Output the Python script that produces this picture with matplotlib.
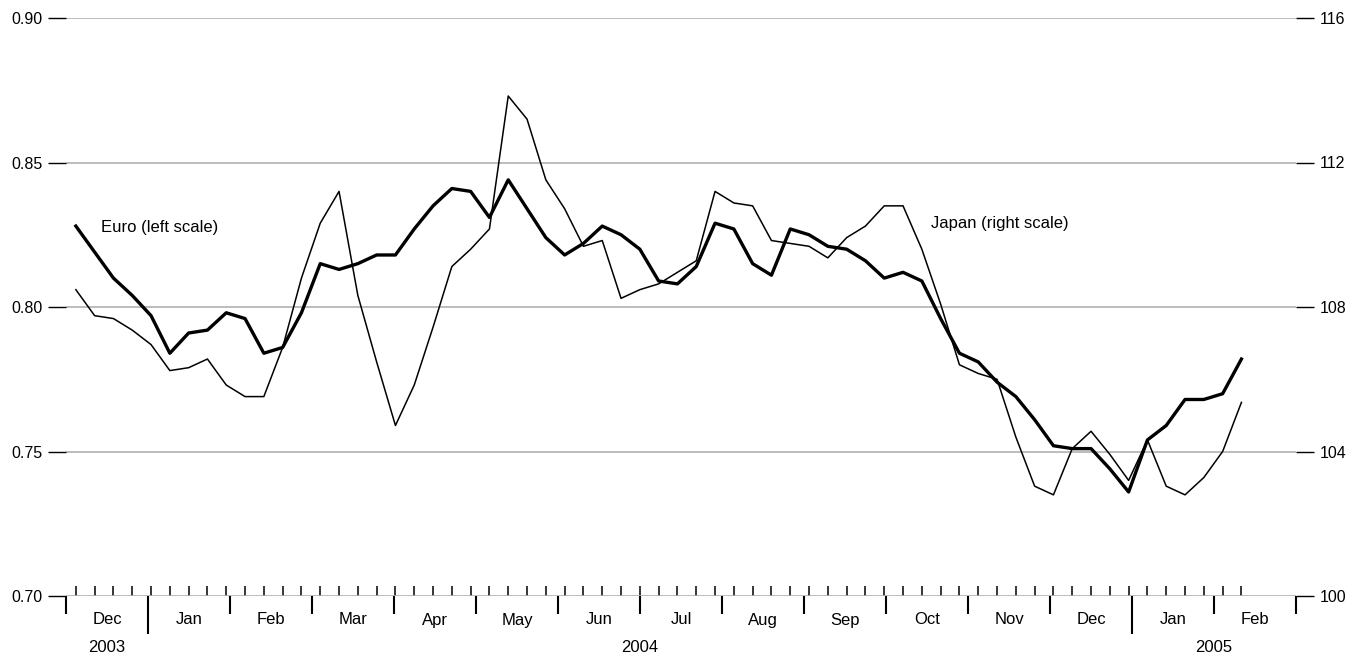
import numpy as np
import matplotlib.pyplot as plt
import matplotlib.transforms as mtransforms

plt.rcParams['font.family'] = ['Liberation Sans', 'DejaVu Sans']

# weekly values, Dec 2003 - Feb 2005
euro = [0.828, 0.819, 0.810, 0.804, 0.797, 0.784, 0.791, 0.792, 0.798, 0.796,
        0.784, 0.786, 0.798, 0.815, 0.813, 0.815, 0.818, 0.818, 0.827, 0.835,
        0.841, 0.840, 0.831, 0.844, 0.834, 0.824, 0.818, 0.822, 0.828, 0.825,
        0.820, 0.809, 0.808, 0.814, 0.829, 0.827, 0.815, 0.811, 0.827, 0.825,
        0.821, 0.820, 0.816, 0.810, 0.812, 0.809, 0.796, 0.784, 0.781, 0.774,
        0.769, 0.761, 0.752, 0.751, 0.751, 0.744, 0.736, 0.754, 0.759, 0.768,
        0.768, 0.770, 0.782]
yen = [108.48, 107.76, 107.68, 107.36, 106.96, 106.24, 106.32, 106.56, 105.84, 105.52,
       105.52, 106.88, 108.8, 110.32, 111.2, 108.32, 106.48, 104.72, 105.84, 107.44,
       109.12, 109.6, 110.16, 113.84, 113.2, 111.52, 110.72, 109.68, 109.84, 108.24,
       108.48, 108.64, 108.96, 109.28, 111.2, 110.88, 110.8, 109.84, 109.76, 109.68,
       109.36, 109.92, 110.24, 110.8, 110.8, 109.6, 108.08, 106.4, 106.16, 106.0,
       104.4, 103.04, 102.8, 104.08, 104.56, 103.92, 103.2, 104.32, 103.04, 102.8,
       103.28, 104.0, 105.36]
months = ['Dec', 'Jan', 'Feb', 'Mar', 'Apr', 'May', 'Jun', 'Jul', 'Aug', 'Sep',
          'Oct', 'Nov', 'Dec', 'Jan', 'Feb']
years = [('2003', 0.5), ('2004', 7.0), ('2005', 14.0)]

# x in month units (0 = start of Dec 2003), weekly steps
x = 0.12 + np.arange(len(euro)) * 18.8 / 82

fig = plt.figure(figsize=(13.66, 6.58), dpi=100)
ax = fig.add_axes([66 / 1366, 62 / 658, 1230 / 1366, 578 / 658])
ax2 = ax.twinx()

ax.plot(x, euro, color='black', lw=2.4, zorder=3)
ax2.plot(x, yen, color='black', lw=1.1, zorder=3)

ax.set_xlim(0, 15)
ax.set_ylim(0.70, 0.90)
ax2.set_ylim(100, 116)
ax.set_yticks(np.arange(0.70, 0.901, 0.05))
ax.set_yticklabels(['%.2f' % v for v in np.arange(0.70, 0.901, 0.05)])
ax2.set_yticks(np.arange(100, 117, 4))
ax.grid(axis='y', color='#b0b0b0', lw=1.2)
for a in (ax, ax2):
    for s in a.spines.values():
        s.set_visible(False)
ax.tick_params(axis='y', length=13, width=1, labelsize=11.5, pad=4)
ax2.tick_params(axis='y', length=13, width=1, labelsize=11.5, pad=4)

ax.set_xticks(np.arange(0, 16))
ax.set_xticks(x, minor=True)
ax.tick_params(axis='x', which='major', direction='out', length=13, width=1.5, labelbottom=False)
ax.tick_params(axis='x', which='minor', direction='in', length=7, width=1.1)
for t, i in zip(ax.xaxis.get_major_ticks(), range(16)):
    if i in (1, 13):
        t.tick1line.set_markersize(27)

tr = mtransforms.blended_transform_factory(ax.transData, fig.transFigure)
for i, m in enumerate(months):
    fig.text(i + 0.5, 1 - 620 / 658, m, transform=tr, ha='center', va='center', fontsize=12)
for y, pos in years:
    fig.text(pos, 1 - 647 / 658, y, transform=tr, ha='center', va='center', fontsize=12)

ax.text(0.43, 0.8275, 'Euro (left scale)', fontsize=12, va='center')
ax.text(10.55, 0.829, 'Japan (right scale)', fontsize=12, va='center')

fig.savefig('out.png', dpi=100)
